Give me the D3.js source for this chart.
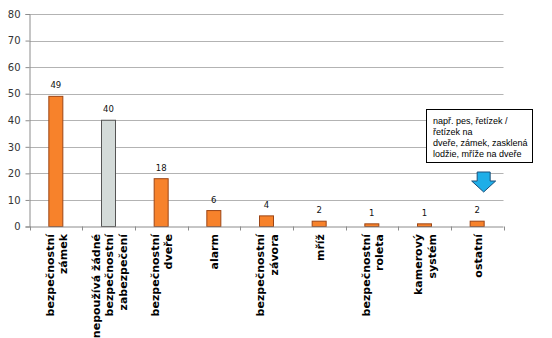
<!DOCTYPE html>
<html>
<head>
<meta charset="utf-8">
<script src="https://cdn.jsdelivr.net/npm/d3@7"></script>
<style>
  html, body { margin: 0; padding: 0; background: #fff; }
  svg { display: block; }
</style>
</head>
<body>
<svg id="chart" width="552" height="338"></svg>
<script>
// Způsob zabezpečení domácnosti – počet odpovědí
const categories = [
  "bezpečnostní\nzámek",
  "nepoužívá žádné\nbezpečnostní\nzabezpečení",
  "bezpečnostní\ndveře",
  "alarm",
  "bezpečnostní\nzávora",
  "mříž",
  "bezpečnostní\nroleta",
  "kamerový\nsystém",
  "ostatní"
];
const values = [49, 40, 18, 6, 4, 2, 1, 1, 2];
const highlight = [false, true, false, false, false, false, false, false, false];
const yTicks = [0, 10, 20, 30, 40, 50, 60, 70, 80];
const noteLines = [
  "např. pes, řetízek /",
  "řetízek na",
  "dveře, zámek, zasklená",
  "lodžie, mříže na dveře"
];
const noteCategory = "ostatní";

const svg = d3.select("#chart");

const plot = { left: 29.5, right: 503.5, top: 14, bottom: 226.5 };

const x = d3.scaleBand()
  .domain(categories)
  .range([plot.left, plot.right])
  .padding(0);

const y = d3.scaleLinear()
  .domain([0, 80])
  .range([plot.bottom, plot.top]);

const barWidth = 14;

// horizontal gridlines
svg.append("g")
  .selectAll("line")
  .data(yTicks.filter(d => d > 0))
  .join("line")
  .attr("x1", plot.left)
  .attr("x2", plot.right)
  .attr("y1", d => Math.round(y(d)) + 0.5)
  .attr("y2", d => Math.round(y(d)) + 0.5)
  .attr("stroke", "#b3b3b3")
  .attr("stroke-width", 1);

// y axis
const yAxis = svg.append("g")
  .attr("transform", `translate(${plot.left},0)`)
  .call(d3.axisLeft(y).tickValues(yTicks).tickSize(4).tickPadding(5));
yAxis.select(".domain").attr("stroke", "#8c8c8c");
yAxis.selectAll(".tick line").attr("stroke", "#8c8c8c");
yAxis.selectAll(".tick text")
  .attr("font-family", "DejaVu Sans, Verdana, sans-serif")
  .attr("font-size", "10px")
  .attr("fill", "#333");

// bars
svg.append("g")
  .selectAll("rect")
  .data(categories)
  .join("rect")
  .attr("x", d => x(d) + x.bandwidth() / 2 - barWidth / 2)
  .attr("y", (d, i) => y(values[i]))
  .attr("width", barWidth)
  .attr("height", (d, i) => y(0) - y(values[i]))
  .attr("fill", (d, i) => highlight[i] ? "#d4dbd9" : "#f7822b")
  .attr("stroke", (d, i) => highlight[i] ? "#555" : "#9c4515")
  .attr("stroke-width", 1);

// x axis
const xAxisG = svg.append("g")
  .attr("transform", `translate(0,${plot.bottom})`);
xAxisG.append("line")
  .attr("x1", plot.left).attr("x2", plot.right)
  .attr("y1", 0.5).attr("y2", 0.5)
  .attr("stroke", "#8c8c8c");
xAxisG.selectAll("line.tick")
  .data(categories.concat([null]))
  .join("line")
  .attr("class", "tick")
  .attr("x1", d => Math.round(d === null ? plot.right : x(d)) + 0.5)
  .attr("x2", d => Math.round(d === null ? plot.right : x(d)) + 0.5)
  .attr("y1", 0).attr("y2", 4)
  .attr("stroke", "#8c8c8c");

// value labels
svg.append("g")
  .selectAll("text")
  .data(categories)
  .join("text")
  .attr("x", d => x(d) + x.bandwidth() / 2)
  .attr("y", (d, i) => y(values[i]) - 8)
  .attr("text-anchor", "middle")
  .attr("font-family", "DejaVu Sans, Verdana, sans-serif")
  .attr("font-size", "8.5px")
  .attr("fill", "#111")
  .text((d, i) => values[i]);

// rotated category labels
const lineGap = 13.5;
const catLabels = svg.append("g")
  .selectAll("g")
  .data(categories)
  .join("g")
  .attr("transform", d => `translate(${x(d) + x.bandwidth() / 2},234) rotate(-90)`);
catLabels.each(function(d) {
  const lines = d.split("\n");
  const n = lines.length;
  d3.select(this).selectAll("text")
    .data(lines)
    .join("text")
    .attr("x", 0)
    .attr("y", (l, i) => (i - (n - 1) / 2) * lineGap + 4.5)
    .attr("text-anchor", "end")
    .attr("font-family", "DejaVu Sans, Verdana, sans-serif")
    .attr("font-weight", "bold")
    .attr("font-size", "11px")
    .attr("fill", "#000")
    .text(l => l);
});

// note box for "ostatní"
const note = svg.append("g");
note.append("rect")
  .attr("x", 426.5).attr("y", 109.5)
  .attr("width", 106).attr("height", 53)
  .attr("fill", "#fff")
  .attr("stroke", "#000")
  .attr("stroke-width", 1);
note.selectAll("text")
  .data(noteLines)
  .join("text")
  .attr("x", 433)
  .attr("y", (d, i) => 123.5 + i * 11)
  .attr("font-family", "Liberation Sans, Arial, sans-serif")
  .attr("font-size", "9px")
  .attr("fill", "#000")
  .text(d => d);

// arrow pointing down to the "ostatní" bar
const arrowX = x(noteCategory) + x.bandwidth() / 2 + 6.5;
const arrowTop = 172, arrowHead = 181, arrowTip = 192;
note.append("path")
  .attr("d", `M${arrowX - 6.5},${arrowTop} L${arrowX + 6.5},${arrowTop} L${arrowX + 6.5},${arrowHead} L${arrowX + 12},${arrowHead} L${arrowX},${arrowTip} L${arrowX - 12},${arrowHead} L${arrowX - 6.5},${arrowHead} Z`)
  .attr("fill", "#1eaee8")
  .attr("stroke", "#1b4f7a")
  .attr("stroke-width", 1);
</script>
</body>
</html>
